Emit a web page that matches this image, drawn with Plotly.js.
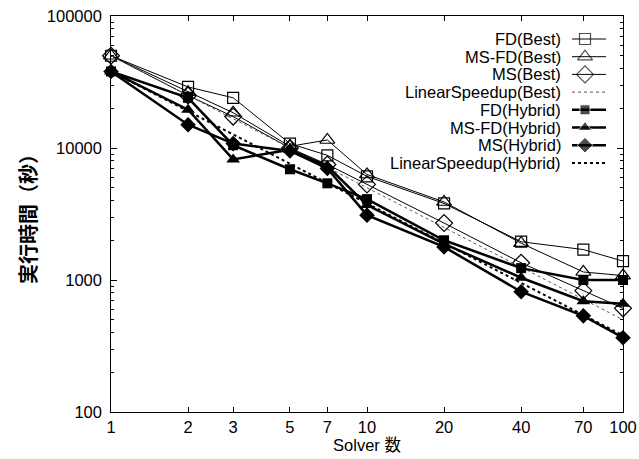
<!DOCTYPE html>
<html>
<head>
<meta charset="utf-8">
<script src="https://cdn.plot.ly/plotly-3.0.1.min.js"></script>
<style>html,body{margin:0;padding:0;background:#fff;}#chart{width:639px;height:459px;}</style>
</head>
<body>
<div id="chart"></div>
<script>
// ---- data ----
const solvers = [1, 2, 3, 5, 7, 10, 20, 40, 70, 100];
const xTickLabels = ["1", "2", "3", "5", "7", "10", "20", "40", "70", "100"];
const yTickVals = [100, 1000, 10000, 100000];
const yTickLabels = ["100", "1000", "10000", "100000"];

const fdBest      = [50000, 29000, 24000, 10800, 8800, 6100, 3800, 1950, 1700, 1390];
const msfdBest    = [50000, 26500, 18500, 10300, 11500, 6300, 3900, 1900, 1150, 1080];
const msBest      = [50000, 25000, 17300, 10000, 7500, 5300, 2700, 1350, 830, 610];
const linBest     = [50000, 25000, 16700, 10000, 7140, 5000, 2500, 1250, 714, 500];
const fdHybrid    = [38000, 24000, 10500, 6900, 5400, 4100, 2000, 1230, 1000, 1000];
const msfdHybrid  = [38000, 19500, 8200, 9700, 7300, 3700, 1880, 1040, 690, 660];
const msHybrid    = [38000, 15000, 10800, 9500, 7000, 3100, 1780, 815, 535, 365];
const linHybrid   = [38000, 19000, 12700, 7600, 5430, 3800, 1900, 950, 543, 380];

const seriesNames = ["FD(Best)", "MS-FD(Best)", "MS(Best)", "LinearSpeedup(Best)",
                     "FD(Hybrid)", "MS-FD(Hybrid)", "MS(Hybrid)", "LinearSpeedup(Hybrid)"];
const seriesData = [fdBest, msfdBest, msBest, linBest, fdHybrid, msfdHybrid, msHybrid, linHybrid];

// ---- styles ----
const styles = [
  {mode: "lines+markers", line: {color: "#000", width: 1}, marker: {symbol: "square-open", size: 11, color: "#000", line: {width: 1.2}}},
  {mode: "lines+markers", line: {color: "#000", width: 1}, marker: {symbol: "triangle-up-open", size: 13, color: "#000", line: {width: 1.2}}},
  {mode: "lines+markers", line: {color: "#000", width: 1}, marker: {symbol: "diamond-open", size: 13, color: "#000", line: {width: 1.2}}},
  {mode: "lines", line: {color: "#555", width: 1, dash: "dot"}},
  {mode: "lines+markers", line: {color: "#000", width: 2.5}, marker: {symbol: "square", size: 10, color: "#000"}},
  {mode: "lines+markers", line: {color: "#000", width: 2.5}, marker: {symbol: "triangle-up", size: 12, color: "#000"}},
  {mode: "lines+markers", line: {color: "#000", width: 2.5}, marker: {symbol: "diamond", size: 12, color: "#000"}},
  {mode: "lines", line: {color: "#000", width: 2, dash: "dot"}}
];

const traces = seriesData.map((ys, i) => Object.assign({
  type: "scatter", x: solvers, y: ys, name: seriesNames[i], showlegend: false,
  xaxis: "x", yaxis: "y", cliponaxis: false
}, JSON.parse(JSON.stringify(styles[i]))));

// ---- custom gnuplot-style legend (text right, sample left-to-right) on a pixel overlay axis ----
const legTextRight = 563, legX0 = 572, legXm = 585, legX1 = 606, legY0 = 39, legDy = 17.7;
const annotations = [];
seriesNames.forEach((name, i) => {
  const yy = legY0 + i * legDy;
  const st = JSON.parse(JSON.stringify(styles[i]));
  const t = {type: "scatter", x: [legX0, legXm, legX1], y: [yy, yy, yy], xaxis: "x2", yaxis: "y2",
             showlegend: false, hoverinfo: "skip", cliponaxis: false, mode: st.mode, line: st.line};
  if (st.marker) { t.marker = Object.assign({}, st.marker, {size: [0, st.marker.size, 0]}); }
  traces.push(t);
  annotations.push({xref: "x2", yref: "y2", x: legTextRight, y: yy, text: name, showarrow: false,
                    xanchor: "right", yanchor: "middle", font: {family: "Liberation Sans", size: 16.5, color: "#000"}});
});

const minorVals = [];
[100, 1000, 10000].forEach(d => { for (let k = 2; k <= 9; k++) minorVals.push(d * k); });

const layout = {
  width: 639, height: 459,
  margin: {l: 111, r: 16, t: 16, b: 47},
  paper_bgcolor: "#fff", plot_bgcolor: "#fff",
  font: {family: "Liberation Sans", size: 16.5, color: "#000"},
  xaxis: {
    type: "log", range: [0, 2], tickvals: solvers, ticktext: xTickLabels,
    ticks: "inside", ticklen: 5, tickwidth: 1, tickcolor: "#000",
    showline: true, linecolor: "#000", linewidth: 1.2, mirror: "ticks",
    showgrid: false, zeroline: false,
    title: {text: "Solver 数", font: {family: "Liberation Sans, Noto Sans CJK JP", size: 16.5}, standoff: 0}
  },
  yaxis: {
    type: "log", range: [2, 5], tickvals: yTickVals, ticktext: yTickLabels.map(s => s + "\u00A0"),
    ticks: "inside", ticklen: 6, tickwidth: 1, tickcolor: "#000",
    minor: {tickvals: minorVals, ticks: "inside", ticklen: 3, tickcolor: "#000", showgrid: false},
    showline: true, linecolor: "#000", linewidth: 1.2, mirror: "allticks",
    showgrid: false, zeroline: false,
    title: {text: "<b>実行時間（秒）</b>", font: {family: "Noto Sans CJK JP", size: 20}, standoff: 4}
  },
  xaxis2: {overlaying: "x", range: [111, 623], visible: false, fixedrange: true},
  yaxis2: {overlaying: "y", range: [412, 16], visible: false, fixedrange: true},
  annotations: annotations
};

Plotly.newPlot("chart", traces, layout, {staticPlot: true, displayModeBar: false});
</script>
</body>
</html>
